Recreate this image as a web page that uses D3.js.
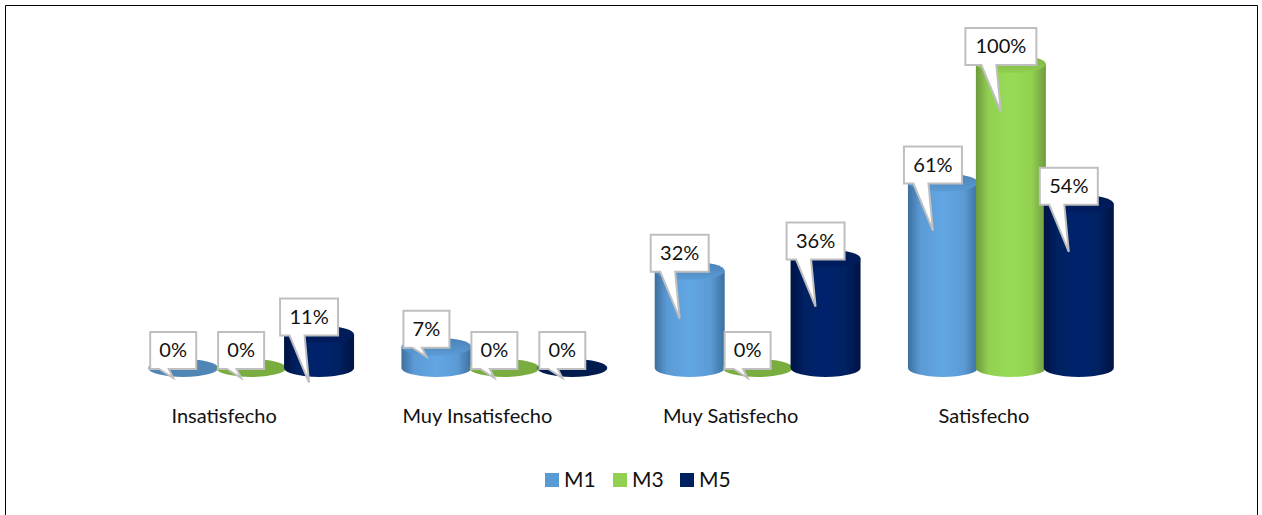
<!DOCTYPE html>
<html>
<head>
<meta charset="utf-8">
<script src="https://cdnjs.cloudflare.com/ajax/libs/d3/7.8.5/d3.min.js"></script>
<style>
	html, body { margin: 0; padding: 0; background: #fff; overflow: hidden; }
	text { font-family: Lato, "Open Sans", sans-serif; fill: #111; }
</style>
</head>
<body>
<svg id="chart" width="1262" height="515"></svg>
<script>
var categories = ['Insatisfecho', 'Muy Insatisfecho', 'Muy Satisfecho', 'Satisfecho'];
var seriesNames = ['M1', 'M3', 'M5'];
var m1 = [0, 7, 32, 61];
var m3 = [0, 0, 0, 100];
var m5 = [11, 0, 36, 54];
var seriesValues = [m1, m3, m5];
var tones = [
	{ base: '#5b9bd5', edge: '#3d6f9e', mid: '#62a6e4', cap: '#4a82b6', flat: '#4f86b5' },
	{ base: '#92d050', edge: '#6d9a3e', mid: '#97dc56', cap: '#7cb045', flat: '#7aad40' },
	{ base: '#002060', edge: '#001344', mid: '#00226e', cap: '#001a52', flat: '#001a50' }
];

var svg = d3.select('#chart');
var defs = svg.append('defs');
defs.append('filter').attr('id', 'soft').append('feGaussianBlur').attr('stdDeviation', 0.7);

// frame, bottom edge is cut off in the picture
svg.append('path')
	.attr('d', 'M5.5,515V5.5H1257.5V515')
	.attr('fill', 'none')
	.attr('stroke', '#000')
	.attr('stroke-width', 1);

var x0 = d3.scaleBand().domain(categories).range([124.5, 1137.5]);
var x1 = d3.scaleBand().domain(seriesNames).range([0, x0.bandwidth()]).paddingOuter(0.364);
var y = d3.scaleLinear().domain([0, 100]).range([368, 64]);
var rx = 35;
var ry = 9;

tones.forEach((t, i) => {
	var g = defs.append('linearGradient').attr('id', 'body' + i);
	[[0, t.edge], [0.18, t.base], [0.5, t.mid], [0.8, t.base], [1, t.edge]].forEach(s => {
		g.append('stop').attr('offset', s[0]).attr('stop-color', s[1]);
	});
	var c = defs.append('linearGradient').attr('id', 'cap' + i)
		.attr('x1', 0).attr('x2', 0).attr('y1', 0).attr('y2', 1);
	c.append('stop').attr('offset', 0).attr('stop-color', t.cap);
	c.append('stop').attr('offset', 1).attr('stop-color', t.base);
});

var rows = [];
categories.forEach((cat, c) => {
	seriesNames.forEach((name, s) => {
		rows.push({ cat: cat, name: name, s: s, value: seriesValues[s][c] });
	});
});
var cx = d => x0(d.cat) + x1(d.name) + x1.bandwidth() / 2;

var bars = svg.append('g').attr('filter', 'url(#soft)');
rows.forEach(d => {
	var xc = cx(d);
	var yb = y(0);
	var yt = y(d.value);
	if (d.value === 0) {
		bars.append('ellipse')
			.attr('cx', xc).attr('cy', yb)
			.attr('rx', rx).attr('ry', ry)
			.attr('fill', tones[d.s].flat);
		return;
	}
	bars.append('path')
		.attr('d', `M${xc - rx},${yt}V${yb}A${rx},${ry} 0 0 0 ${xc + rx},${yb}V${yt}Z`)
		.attr('fill', `url(#body${d.s})`);
	bars.append('ellipse')
		.attr('cx', xc).attr('cy', yt)
		.attr('rx', rx).attr('ry', ry)
		.attr('fill', `url(#cap${d.s})`);
});

// category labels sit left of the group centre
var axis = d3.axisBottom(x0).tickSize(0).tickPadding(0);
var axisG = svg.append('g')
	.attr('transform', 'translate(-27,409)')
	.call(axis);
axisG.select('.domain').remove();
axisG.selectAll('text').attr('font-size', 20).attr('font-family', null);

// callouts
rows.forEach(d => {
	var label = d.value + '%';
	var w = d.value === 100 ? 71 : (d.value >= 10 ? 58 : 46);
	var mid = cx(d) - 10;
	var bottom = y(d.value) + 1;
	var top = bottom - 37;
	var left = mid - w / 2;
	var long = d.value >= 10;
	var tail = long ? 47 : 9;
	var b1 = mid - (long ? 19.5 : 14);
	var b2 = mid - 4.5;
	svg.append('path')
		.attr('d', `M${left},${top}H${left + w}V${bottom}H${b2}L${mid},${bottom + tail}L${b1},${bottom}H${left}Z`)
		.attr('fill', '#fff')
		.attr('stroke', '#bfbfbf')
		.attr('stroke-width', 2);
	svg.append('text')
		.attr('x', mid)
		.attr('y', top + 25)
		.attr('text-anchor', 'middle')
		.attr('font-size', 20)
		.text(label);
});

// legend
var legendX = d3.scaleOrdinal().domain(seriesNames).range([545, 613, 680]);
var legend = svg.append('g');
seriesNames.forEach((name, s) => {
	legend.append('rect')
		.attr('x', legendX(name)).attr('y', 473)
		.attr('width', 14).attr('height', 14)
		.attr('fill', tones[s].base);
	legend.append('text')
		.attr('x', legendX(name) + 19).attr('y', 487)
		.attr('font-size', 21)
		.text(name);
});
</script>
</body>
</html>
